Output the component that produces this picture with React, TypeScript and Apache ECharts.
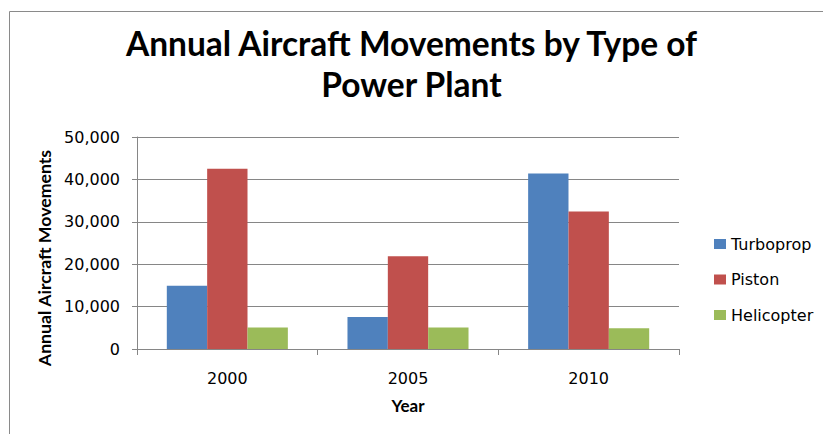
import React, { useEffect, useRef } from "react";
import * as echarts from "echarts";

const titleLines = ["Annual Aircraft Movements by Type of", "Power Plant"];
const years = ["2000", "2005", "2010"];
const turboprop = [14900, 7550, 41400];
const piston = [42500, 21900, 32400];
const helicopter = [5100, 5100, 4900];
const seriesNames = ["Turboprop", "Piston", "Helicopter"];
const yTicks = { min: 0, max: 50000, interval: 10000 };

const GRAY = "#868686";

export default function App() {
  const ref = useRef<HTMLDivElement>(null);
  useEffect(() => {
    if (!ref.current) return;
    const chart = echarts.init(ref.current, undefined, { renderer: "svg" });
    const values = [turboprop, piston, helicopter];
    const colors = ["#4F81BD", "#C0504D", "#9BBB59"];
    chart.setOption({
      animation: false,
      backgroundColor: "#ffffff",
      title: {
        text: titleLines.join("\n"),
        left: "center",
        top: 17,
        textStyle: {
          fontFamily: "Lato",
          fontWeight: "bold",
          fontSize: 33.5,
          lineHeight: 41,
          color: "#000000",
        },
      },
      graphic: [
        {
          type: "rect",
          left: 7,
          top: 9,
          shape: { x: 0, y: 0, width: 900, height: 500 },
          style: { fill: "none", stroke: "#8a8a8a", lineWidth: 1 },
          silent: true,
        },
      ],
      legend: {
        orient: "vertical",
        left: 709,
        top: 229,
        icon: "rect",
        itemWidth: 12,
        itemHeight: 10,
        itemGap: 15.5,
        data: seriesNames,
        textStyle: {
          fontFamily: "DejaVu Sans",
          fontSize: 16,
          lineHeight: 20,
          color: "#000000",
        },
      },
      grid: { left: 137, right: 144, top: 137, bottom: 85 },
      xAxis: {
        type: "category",
        data: years,
        name: "Year",
        nameLocation: "middle",
        nameGap: 48,
        nameTextStyle: {
          fontFamily: "Lato",
          fontWeight: "bold",
          fontSize: 17,
          lineHeight: 17,
          color: "#000000",
        },
        axisLine: { lineStyle: { color: GRAY, width: 1 } },
        axisTick: { show: true, length: 6, lineStyle: { color: GRAY } },
        axisLabel: {
          margin: 21,
          fontFamily: "DejaVu Sans",
          fontSize: 16,
          lineHeight: 16,
          color: "#000000",
        },
      },
      yAxis: {
        type: "value",
        min: yTicks.min,
        max: yTicks.max,
        interval: yTicks.interval,
        name: "Annual Aircraft Movements",
        nameLocation: "middle",
        nameGap: 84,
        nameTextStyle: {
          fontFamily: "Lato",
          fontWeight: "bold",
          fontSize: 17.7,
          color: "#000000",
          padding: [0, 30, 0, 0],
        },
        axisLine: { show: true, lineStyle: { color: GRAY, width: 1 } },
        axisTick: { show: true, length: 5, lineStyle: { color: GRAY } },
        splitLine: { show: true, lineStyle: { color: GRAY, width: 1 } },
        axisLabel: {
          margin: 17,
          fontFamily: "DejaVu Sans",
          fontSize: 16,
          color: "#000000",
          formatter: (v: number) => v.toLocaleString("en-US"),
        },
      },
      series: seriesNames.map((name, i) => ({
        name,
        type: "bar",
        data: values[i],
        barGap: "0%",
        barCategoryGap: "33%",
        itemStyle: { color: colors[i] },
      })),
    });
    return () => chart.dispose();
  }, []);
  return (
    <div
      ref={ref}
      style={{ position: "fixed", left: 0, top: 0, width: 823, height: 434 }}
    />
  );
}
